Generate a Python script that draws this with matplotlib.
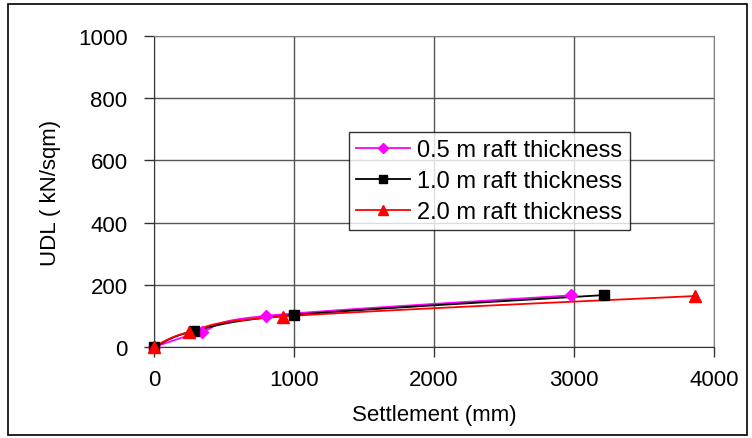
import numpy as np
import matplotlib
matplotlib.use("Agg")
import matplotlib.pyplot as plt
from matplotlib.patches import Rectangle

# Data
x_05 = [0, 340, 800, 2975]
y_05 = [0, 49, 100, 166]
x_10 = [0, 288, 1000, 3215]
y_10 = [0, 52, 103, 167]
x_20 = [0, 252, 924, 3865]
y_20 = [0, 48, 98, 164]
labels = ["0.5 m raft thickness", "1.0 m raft thickness", "2.0 m raft thickness"]
colors = ["#FF00FF", "#000000", "#FF0000"]
markers = ["D", "s", "^"]
xticks = [0, 1000, 2000, 3000, 4000]
yticks = [0, 200, 400, 600, 800, 1000]


def smooth(xs, ys, n=40):
    # Excel-style smoothed line (Catmull-Rom-like Bezier through the points)
    xs = np.asarray(xs, float)
    ys = np.asarray(ys, float)
    px, py = [], []
    m = len(xs)
    for i in range(m - 1):
        p0 = (xs[max(i - 1, 0)], ys[max(i - 1, 0)])
        p1 = (xs[i], ys[i])
        p2 = (xs[i + 1], ys[i + 1])
        p3 = (xs[min(i + 2, m - 1)], ys[min(i + 2, m - 1)])
        c1 = (p1[0] + (p2[0] - p0[0]) / 6, p1[1] + (p2[1] - p0[1]) / 6)
        c2 = (p2[0] - (p3[0] - p1[0]) / 6, p2[1] - (p3[1] - p1[1]) / 6)
        t = np.linspace(0, 1, n)
        bx = (1 - t) ** 3 * p1[0] + 3 * (1 - t) ** 2 * t * c1[0] + 3 * (1 - t) * t ** 2 * c2[0] + t ** 3 * p2[0]
        by = (1 - t) ** 3 * p1[1] + 3 * (1 - t) ** 2 * t * c1[1] + 3 * (1 - t) * t ** 2 * c2[1] + t ** 3 * p2[1]
        px.extend(bx)
        py.extend(by)
    return px, py


plt.rcParams['font.family'] = ['Liberation Sans', 'DejaVu Sans']

W, H = 752, 439
fig = plt.figure(figsize=(W / 100, H / 100), dpi=100)
fig.patches.append(Rectangle((8 / W, 3 / H), 739 / W, 431 / H, transform=fig.transFigure,
                             fill=False, edgecolor="black", linewidth=1.2, zorder=0))

ax = fig.add_axes([154 / W, 1 - 348 / H, (714 - 154) / W, (348 - 37) / H])
ax.set_xlim(0, 4000)
ax.set_ylim(0, 1000)
ax.set_xticks(xticks)
ax.set_yticks(yticks)
ax.grid(True, color="#555555", linewidth=1.0)
ax.set_axisbelow(True)
for s in ["top", "right"]:
    ax.spines[s].set_color("#808080")
for s in ["left", "bottom"]:
    ax.spines[s].set_color("#333333")
ax.tick_params(direction="out", length=7, width=1, color="#333333", labelsize=16)
ax.tick_params(axis="y", pad=12)
ax.tick_params(axis="x", pad=9)

series = [(x_05, y_05), (x_10, y_10), (x_20, y_20)]
handles = []
for (xs, ys), lab, c, mk in zip(series, labels, colors, markers):
    sx, sy = smooth(xs, ys)
    ax.plot(sx, sy, color=c, linewidth=1.3, zorder=3, clip_on=False)
    ms = 6 if mk == "D" else (7 if mk == "s" else 9)
    ax.plot(xs, ys, linestyle="none", marker=mk, color=c, markersize=ms, zorder=4, clip_on=False)
    h, = ax.plot([], [], color=c, linewidth=1.3, marker=mk, markersize=ms * 0.8, label=lab)
    handles.append(h)

leg = ax.legend(handles=handles, loc="upper left",
                bbox_to_anchor=((349 - 154) / 560, (348 - 133) / 311),
                fontsize=17, frameon=True, fancybox=False, edgecolor="black",
                borderpad=0.3, labelspacing=0.38, handlelength=2.3, handletextpad=0.3,
                borderaxespad=0)
leg.get_frame().set_linewidth(1.0)

ax.set_xlabel("Settlement (mm)", fontsize=16, labelpad=10)
ax.set_ylabel("UDL ( kN/sqm)", fontsize=16, labelpad=12)

fig.savefig("out.png", dpi=100)
